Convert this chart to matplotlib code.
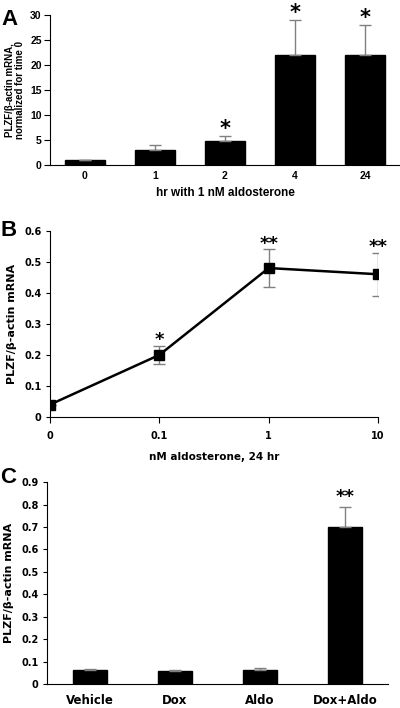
import matplotlib
matplotlib.use("Agg")
import matplotlib.pyplot as plt
import numpy as np

# Panel A: time course with 1 nM aldosterone
a_labels = ["0", "1", "2", "4", "24"]
a_vals = [1.0, 2.9, 4.8, 22.0, 22.0]
a_err = [0.0, 1.0, 1.0, 7.0, 6.0]
a_stars = ["", "", "*", "*", "*"]

# Panel B: dose response at 24 hr
b_labels = ["0", "0.1", "1", "10"]
b_vals = [0.04, 0.20, 0.48, 0.46]
b_err = [0.0, 0.03, 0.06, 0.07]
b_stars = ["", "*", "**", "**"]

# Panel C: dox / aldo
c_labels = ["Vehicle", "Dox", "Aldo", "Dox+Aldo"]
c_vals = [0.060, 0.058, 0.062, 0.70]
c_err = [0.005, 0.006, 0.007, 0.09]
c_stars = ["", "", "", "**"]

ylab = "PLZF/\u03b2-actin mRNA"
GREY = "#808080"


def stars(ax, xs, vals, errs, marks, size, off):
    for x, v, e, s in zip(xs, vals, errs, marks):
        if s:
            ax.annotate(s, (x, v + e), xytext=(0, off), textcoords="offset points",
                        ha="center", va="center", fontsize=size, fontweight="bold",
                        annotation_clip=False)


fig = plt.figure(figsize=(4.0, 7.08), dpi=100)

# ---- A ----
axA = fig.add_axes([0.125, 0.767, 0.875, 0.212])
xa = np.arange(len(a_vals))
axA.bar(xa, a_vals, width=0.56, color="black", edgecolor="black")
axA.errorbar(xa, a_vals, yerr=[np.zeros(len(a_err)), a_err], fmt="none",
             ecolor=GREY, elinewidth=1, capsize=4, capthick=1)
stars(axA, xa, a_vals, a_err, a_stars, 15, 5)
axA.set_xlim(-0.5, 4.5)
axA.set_ylim(0, 30)
axA.set_yticks(range(0, 31, 5))
axA.set_xticks(xa)
axA.set_xticklabels(a_labels)
axA.tick_params(axis="x", length=0, pad=4)
axA.tick_params(axis="y", length=4, pad=2)
for lab in axA.get_xticklabels() + axA.get_yticklabels():
    lab.set_fontsize(7.5)
    lab.set_fontweight("bold")
    lab.set_family("Liberation Sans")
axA.spines["top"].set_visible(False)
axA.spines["right"].set_visible(False)
axA.set_xlabel("hr with 1 nM aldosterone", fontsize=8.5, fontweight="bold",
               family="Liberation Sans", labelpad=5)
axA.set_ylabel(ylab + ",\nnormalized for time 0", fontsize=7, fontweight="bold",
               family="Liberation Sans", labelpad=4, linespacing=1.0)
fig.text(0.003, 0.973, "A", fontsize=16, fontweight="bold", family="Liberation Sans",
         va="center")

# ---- B ----
axB = fig.add_axes([0.125, 0.411, 0.82, 0.263])
xb = np.arange(len(b_vals))
axB.plot(xb, b_vals, color="black", lw=1.8, marker="s", ms=7, zorder=3)
axB.errorbar(xb, b_vals, yerr=b_err, fmt="none", ecolor=GREY,
             elinewidth=1, capsize=4, capthick=1, zorder=2)
stars(axB, xb, b_vals, b_err, b_stars, 13, 4)
axB.set_xlim(0, 3)
axB.set_ylim(0, 0.6)
axB.set_yticks(np.arange(0, 0.61, 0.1))
axB.set_yticklabels(["0", "0.1", "0.2", "0.3", "0.4", "0.5", "0.6"])
axB.set_xticks(xb)
axB.set_xticklabels(b_labels)
axB.tick_params(axis="x", length=4, pad=6)
axB.tick_params(axis="y", length=3, pad=3)
for lab in axB.get_xticklabels() + axB.get_yticklabels():
    lab.set_fontsize(7)
    lab.set_fontweight("bold")
axB.spines["top"].set_visible(False)
axB.spines["right"].set_visible(False)
axB.set_xlabel("nM aldosterone, 24 hr", fontsize=7.5, fontweight="bold", labelpad=8)
axB.set_ylabel(ylab, fontsize=8, fontweight="bold", labelpad=5)
fig.text(0.0, 0.675, "B", fontsize=16, fontweight="bold", family="Liberation Sans",
         va="center")

# ---- C ----
axC = fig.add_axes([0.1175, 0.034, 0.8525, 0.285])
xc = np.arange(len(c_vals))
axC.bar(xc, c_vals, width=0.4, color="black", edgecolor="black")
axC.errorbar(xc, c_vals, yerr=[np.zeros(len(c_err)), c_err], fmt="none",
             ecolor=GREY, elinewidth=1, capsize=4, capthick=1)
stars(axC, xc, c_vals, c_err, c_stars, 13, 7)
axC.set_xlim(-0.5, 3.5)
axC.set_ylim(0, 0.9)
axC.set_yticks(np.arange(0, 0.91, 0.1))
axC.set_yticklabels(["0", "0.1", "0.2", "0.3", "0.4", "0.5", "0.6", "0.7", "0.8", "0.9"])
axC.set_xticks(xc)
axC.set_xticklabels(c_labels)
axC.tick_params(axis="x", length=0, pad=7)
axC.tick_params(axis="y", length=3, pad=3)
for lab in axC.get_xticklabels():
    lab.set_fontsize(8.5)
    lab.set_fontweight("bold")
for lab in axC.get_yticklabels():
    lab.set_fontsize(7)
    lab.set_fontweight("bold")
axC.spines["top"].set_visible(False)
axC.spines["right"].set_visible(False)
axC.set_ylabel(ylab, fontsize=8, fontweight="bold", labelpad=5)
fig.text(0.0, 0.325, "C", fontsize=16, fontweight="bold", family="Liberation Sans",
         va="center")

fig.savefig("out.png", dpi=100)
